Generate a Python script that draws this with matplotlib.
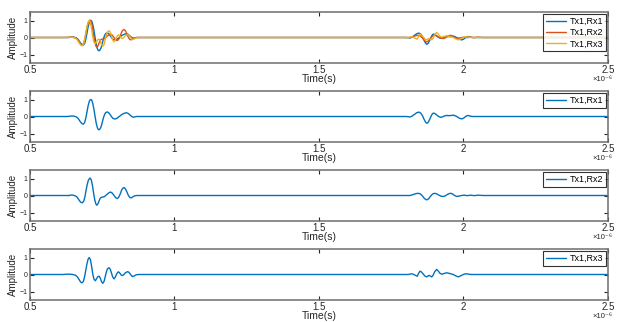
import matplotlib
matplotlib.use("Agg")
import matplotlib.pyplot as plt
from matplotlib.ticker import FuncFormatter, FixedLocator

plt.rcParams['font.family'] = ['Liberation Sans', 'DejaVu Sans']

# time in microseconds, amplitude
t_rx1 = [0.5, 0.63, 0.638, 0.645, 0.652, 0.660, 0.667, 0.673, 0.679, 0.684, 0.689, 0.693,
         0.697, 0.701, 0.705, 0.708, 0.711, 0.714, 0.717, 0.721, 0.725, 0.729, 0.733, 0.736,
         0.739, 0.742, 0.746, 0.750, 0.754, 0.758, 0.762, 0.767, 0.772, 0.777, 0.782, 0.787,
         0.794, 0.800, 0.806, 0.812, 0.818, 0.826, 0.834, 0.840, 0.846, 0.852, 0.857, 0.862,
         0.868,
         1.80, 1.808, 1.815, 1.822, 1.830, 1.838, 1.846, 1.852, 1.858, 1.864, 1.869, 1.873,
         1.878, 1.884, 1.889, 1.893, 1.896, 1.902, 1.908, 1.914, 1.921, 1.928, 1.935, 1.942,
         1.950, 1.958, 1.965, 1.972, 1.980, 1.987, 1.994, 2.000, 2.006, 2.011, 2.016, 2.022,
         2.03, 2.5]
a_rx1 = [0, 0, 0.02, 0.03, 0.02, -0.02, -0.12, -0.28, -0.41, -0.45, -0.36, -0.1,
         0.25, 0.62, 0.88, 0.98, 1.0, 0.95, 0.78, 0.45, 0.02, -0.38, -0.65, -0.76,
         -0.78, -0.74, -0.6, -0.35, -0.08, 0.12, 0.23, 0.27, 0.23, 0.12, -0.01, -0.11,
         -0.15, -0.11, -0.04, 0.04, 0.12, 0.19, 0.22, 0.18, 0.09, 0.0, -0.04, -0.03,
         0,
         0, -0.01, -0.03, 0.02, 0.12, 0.22, 0.26, 0.2, 0.05, -0.18, -0.34, -0.4,
         -0.34, -0.13, 0.06, 0.17, 0.2, 0.17, 0.08, 0.0, -0.05, -0.02, 0.04, 0.06,
         0.05, 0.06, 0.08, 0.04, -0.04, -0.11, -0.14, -0.1, -0.02, 0.04, 0.06, 0.03,
         0, 0]

t_rx2 = [0.5, 0.635, 0.641, 0.645, 0.650, 0.657, 0.663, 0.669, 0.675, 0.681, 0.686, 0.690,
         0.694, 0.698, 0.702, 0.7076, 0.712, 0.716, 0.720, 0.724, 0.728, 0.731, 0.735, 0.739,
         0.743, 0.748, 0.753, 0.758, 0.764, 0.770, 0.775, 0.779, 0.784, 0.790, 0.796, 0.802,
         0.807, 0.812, 0.816, 0.820, 0.8253, 0.830, 0.835, 0.840, 0.845, 0.8495, 0.855, 0.862,
         0.87,
         1.80, 1.815, 1.825, 1.835, 1.8436, 1.851, 1.858, 1.865, 1.8726, 1.879, 1.886, 1.893,
         1.901, 1.908, 1.915, 1.922, 1.930, 1.937, 1.944, 1.950, 1.9557, 1.962, 1.969, 1.9775,
         1.985, 1.993, 2.003, 2.013, 2.025, 2.037, 2.05, 2.067, 2.5]
a_rx2 = [0, 0, 0.02, 0.03, 0.01, -0.02, -0.1, -0.25, -0.39, -0.43, -0.33, -0.08,
         0.3, 0.65, 0.9, 1.03, 0.92, 0.6, 0.15, -0.25, -0.5, -0.57, -0.5, -0.32,
         -0.16, -0.1, -0.09, -0.06, 0.03, 0.12, 0.18, 0.2, 0.15, 0.02, -0.12, -0.18,
         -0.1, 0.08, 0.27, 0.41, 0.47, 0.4, 0.22, 0.02, -0.11, -0.14, -0.09, -0.02,
         0,
         0, 0.0, 0.05, 0.11, 0.13, 0.09, -0.03, -0.18, -0.26, -0.2, -0.04, 0.09,
         0.13, 0.09, 0.02, -0.04, -0.06, -0.02, 0.06, 0.11, 0.13, 0.09, 0.0, -0.06,
         -0.03, 0.0, 0.02, -0.01, 0.02, -0.01, 0.02, 0, 0]

t_rx3 = [0.5, 0.614, 0.630, 0.645, 0.657, 0.664, 0.670, 0.675, 0.680, 0.685, 0.689, 0.693,
         0.697, 0.701, 0.705, 0.709, 0.713, 0.717, 0.721, 0.726, 0.731, 0.735, 0.739, 0.743,
         0.747, 0.7516, 0.756, 0.760, 0.764, 0.768, 0.7734, 0.778, 0.782, 0.786, 0.7907, 0.795,
         0.800, 0.8055, 0.810, 0.815, 0.819, 0.824, 0.830, 0.838, 0.843, 0.848, 0.854, 0.860,
         0.867, 0.8747,
         1.795, 1.809, 1.816, 1.823, 1.831, 1.840, 1.845, 1.8495, 1.855, 1.862, 1.867, 1.8726,
         1.877, 1.881, 1.885, 1.890, 1.895, 1.900, 1.907, 1.913, 1.918, 1.9246, 1.933, 1.942,
         1.952, 1.9647, 1.973, 1.982, 1.990, 1.997, 2.004, 2.011, 2.025, 2.040, 2.5]
a_rx3 = [0, 0, 0.02, 0.01, -0.04, -0.14, -0.3, -0.44, -0.49, -0.4, -0.12, 0.25,
         0.62, 0.9, 1.0, 0.88, 0.5, 0.05, -0.26, -0.37, -0.23, -0.12, -0.1, -0.2,
         -0.4, -0.52, -0.42, -0.15, 0.14, 0.33, 0.4, 0.3, 0.08, -0.14, -0.26, -0.16,
         0.04, 0.16, 0.1, -0.02, -0.06, -0.02, 0.1, 0.17, 0.12, 0.0, -0.12, -0.09,
         -0.02, 0,
         0, 0.0, 0.03, 0.04, -0.03, -0.1, 0.08, 0.2, 0.14, 0.0, -0.1, -0.14,
         -0.09, -0.05, -0.09, -0.14, -0.04, 0.15, 0.3, 0.2, 0.08, 0.02, 0.06, 0.1,
         0.06, 0.0, -0.08, -0.14, -0.08, -0.02, 0.03, 0.04, 0.0, 0, 0]

labels = ['Tx1,Rx1', 'Tx1,Rx2', 'Tx1,Rx3']
colors = ['#0072BD', '#D95319', '#EDB120']
x_ticks = [0.5, 1, 1.5, 2, 2.5]
y_ticks = [-1, 0, 1]

series = [(t_rx1, a_rx1), (t_rx2, a_rx2), (t_rx3, a_rx3)]

fig = plt.figure(figsize=(6.17, 3.22), dpi=100)
W, H = 617, 322
left, right = 30, 608
tops = [12, 91, 170, 249]
hgt = 51


def style(ax):
    ax.set_xlim(0.5e-6, 2.5e-6)
    ax.set_ylim(-1.5, 1.5)
    ax.xaxis.set_major_locator(FixedLocator([v * 1e-6 for v in x_ticks]))
    ax.xaxis.set_major_formatter(FuncFormatter(lambda v, p: '%g' % round(v * 1e6, 3)))
    ax.set_yticks(y_ticks)
    ax.tick_params(direction='in', top=True, right=True, length=3, width=0.8,
                   color='#262626')
    ax.tick_params(axis='x', labelsize=7, pad=1.5, labelcolor='#262626')
    ax.tick_params(axis='y', labelsize=5, pad=2, labelcolor='#262626')
    for s in ax.spines.values():
        s.set_color('#6e6e6e')
        s.set_linewidth(1.1)
    ax.set_ylabel('Amplitude', fontsize=7, labelpad=1, color='#262626')
    ax.set_xlabel('Time(s)', fontsize=7.5, labelpad=-0.5, color='#262626')
    ax.text(1.0087, -0.40, '\u00d710\u207b\u2076', transform=ax.transAxes, fontsize=5.5,
            ha='right', va='bottom', color='#262626')


axes = []
for i, top in enumerate(tops):
    ax = fig.add_axes([left / W, 1 - (top + hgt) / H, (right - left) / W, hgt / H])
    axes.append(ax)

ax0 = axes[0]
for (t, a), lab, c in zip(series, labels, colors):
    ax0.plot([v * 1e-6 for v in t], a, color=c, lw=1.0, label=lab,
             solid_joinstyle='round', solid_capstyle='round')
style(ax0)
leg = ax0.legend(loc='upper right', fontsize=6.5, frameon=True, fancybox=False,
                 edgecolor='black', handlelength=2.2, borderpad=0.3, labelspacing=0.25,
                 handletextpad=0.4, borderaxespad=0.25)
leg.get_frame().set_linewidth(0.8)

for ax, (t, a), lab in zip(axes[1:], series, labels):
    ax.plot([v * 1e-6 for v in t], a, color='#0072BD', lw=1.0, label=lab,
            solid_joinstyle='round', solid_capstyle='round')
    style(ax)
    leg = ax.legend(loc='upper right', fontsize=6.5, frameon=True, fancybox=False,
                    edgecolor='black', handlelength=2.2, borderpad=0.3,
                    handletextpad=0.4, borderaxespad=0.25)
    leg.get_frame().set_linewidth(0.8)

fig.savefig('out.png', dpi=100)
